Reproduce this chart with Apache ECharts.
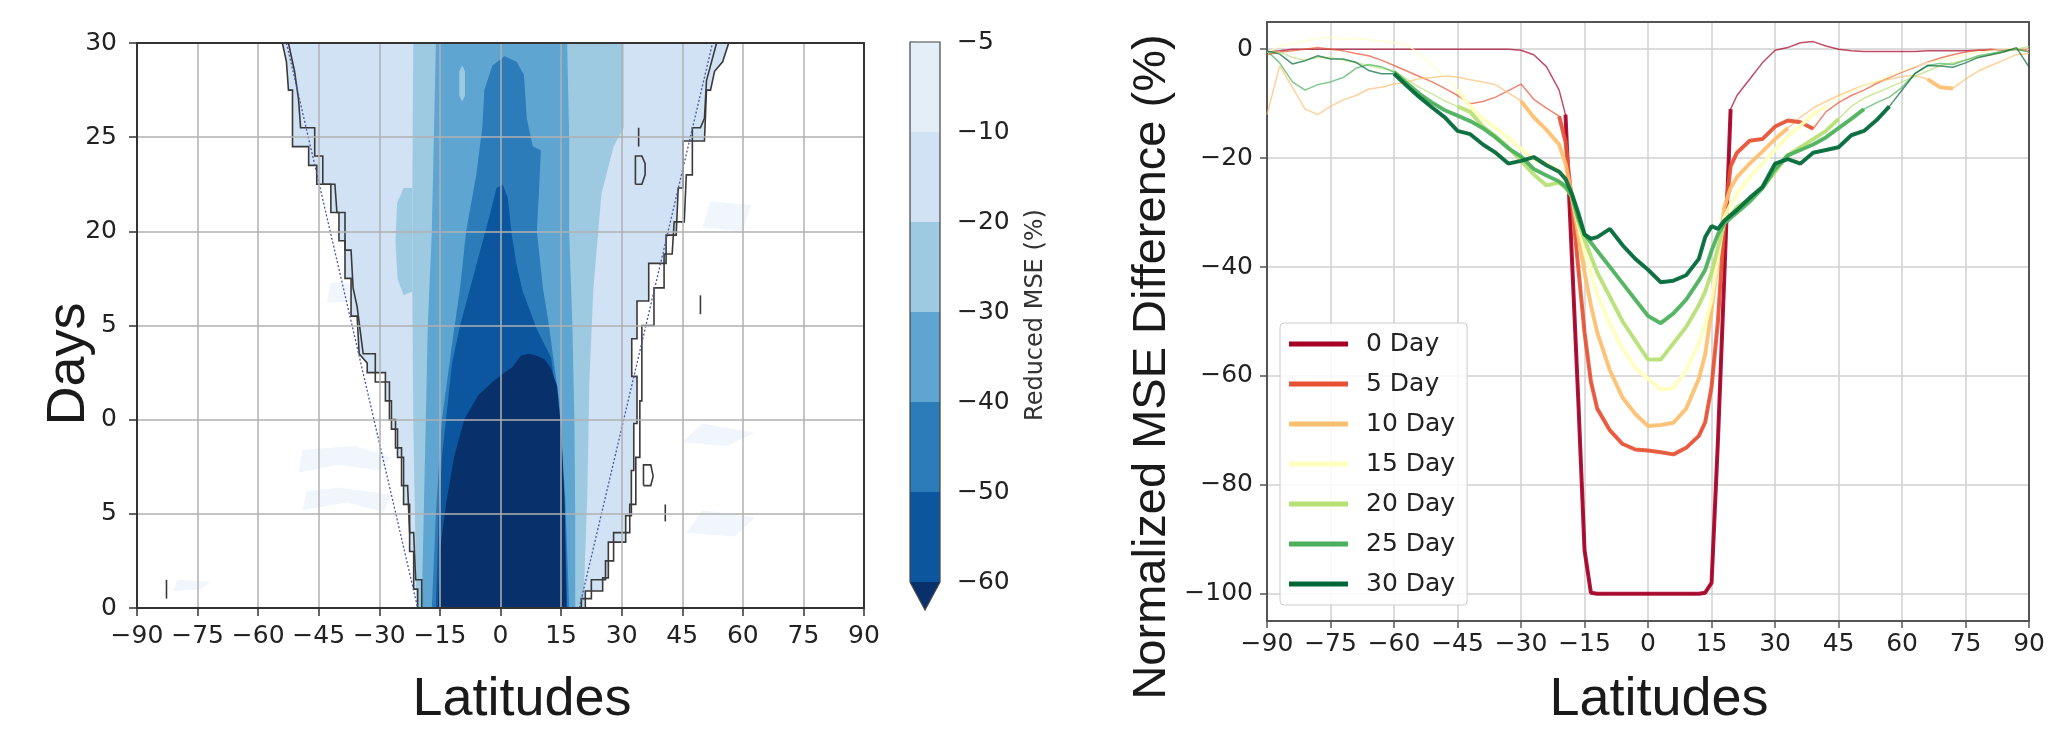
<!DOCTYPE html>
<html><head><meta charset="utf-8">
<script src="https://cdn.jsdelivr.net/npm/echarts@6/dist/echarts.min.js"></script>
<style>html,body{margin:0;padding:0;background:#fff;}#c{width:2048px;height:737px;}</style>
</head><body><div id="c"></div>
<script>
// ---------------- LEFT PANEL: contour regions (lat, day) ----------------
const CB_TICKS = [-5, -10, -20, -30, -40, -50, -60];
// outlines (significance boundaries), top -> bottom
const OUT_L1 = [[-54,30],[-53,29],[-52.5,27.5],[-51.5,27.5],[-51.5,24.5],[-47.5,24.5],[-47.5,23.5],[-45.5,23.5],[-45.5,22.5],[-42,22.5],[-42,21],[-40,21],[-40,19.5],[-38.5,19.5],[-38.5,17.5],[-37,17.5],[-37,15.5],[-35.5,15.5],[-35,13.5],[-33,13],[-33,12.5],[-28.5,12.5],[-28.5,11],[-27,11],[-27,9.5],[-25.5,9.5],[-25.5,8],[-24,8],[-24,5.5],[-22.5,5.5],[-22.5,3],[-21.5,3],[-21.5,1],[-20.5,1],[-20.5,0]];
const OUT_L2 = [[-52.5,30],[-51,28.5],[-50,27],[-49.5,25.5],[-46,25.5],[-46,24],[-44,24],[-44,22.5],[-41,22.5],[-40.5,21],[-38.5,21],[-38.5,19],[-37,19],[-36.5,17],[-35.5,16],[-34,13.5],[-31,13.5],[-31,12],[-27.5,12],[-27.5,10],[-26,10],[-26,8.5],[-24.5,8.5],[-24.5,6.5],[-23,6.5],[-22.5,4],[-21.5,4],[-21,1.5],[-19.5,1.5],[-19.5,0]];
const OUT_R1 = [[56.5,30],[55,29],[53,28.5],[52,27.5],[51,27.5],[50.5,24.8],[45.2,24.8],[45.2,22.3],[44,22.3],[43.5,19.8],[41,19.8],[41,18.3],[36.7,18.3],[36.7,16.3],[33.8,16.3],[33.8,14.3],[32.5,14.3],[32.5,12.3],[33.8,12.3],[33.8,9.8],[33,9.8],[33,7.3],[32.4,7.3],[32.4,4.9],[31,4.9],[31,3.5],[26.7,3.5],[26.7,1.6],[25.3,1.6],[25.3,0.9],[21,0.9],[21,0]];
const OUT_R2 = [[53.5,30],[52,28.8],[51,28],[50.5,26],[49.5,25.5],[47.5,25.5],[47.5,23],[46,23],[45.5,20.5],[43,20.5],[42.5,18.8],[40.5,18.8],[40.5,17],[38,17],[38,15],[35,15],[35,11],[34.5,11],[34.5,8],[33.5,8],[33.5,5.5],[32,5.5],[32,4],[28,4],[28,2.5],[26,2.5],[26,1.5],[22.5,1.5],[22.5,0.5],[20,0.5],[20,0]];
const DIAG_L = [[-53,30],[-20.5,0]];
const DIAG_R = [[19.5,0],[52.5,30]];
const ISLANDS = [
  [[33.4,22.5],[35.0,22.5],[35.8,23.0],[35.8,23.6],[35.0,24.0],[33.4,24.0],[33.4,22.5]],
  [[34.2,24.5],[34.2,25.5]],
  [[49.5,15.6],[49.5,16.6]],
  [[35.4,6.5],[37.2,6.5],[37.8,7.0],[37.2,7.6],[35.4,7.6],[35.4,6.5]],
  [[40.8,4.6],[40.8,5.5]],
  [[-82.7,0.5],[-82.7,1.5]]
];
// band regions: value <= level
const C_REGION = [[-20.8,0],[-21.2,5],[-21.6,10],[-21.8,16],[-21.8,23],[-21.6,30],[30.5,30],[30.5,25.5],[28,24.5],[25,22],[23,17],[22,12],[21.5,6],[20.5,0]];
const C_BLOB = [[-21.8,16.8],[-24,16.6],[-25.5,17.5],[-26,19.5],[-25.6,21.5],[-24,22.3],[-21.8,22.3]];
const D_REGION = [[-19.5,0],[-19,5],[-18.5,10],[-18,15],[-17,20],[-16.5,25],[-16,30],[16.5,30],[17,25],[17,20],[17.8,15],[18.3,10],[18.5,5],[18.5,0]];
const E_REGION = [[-17,0],[-16,5],[-14.5,10],[-12,14],[-10,17],[-8.5,20],[-6,23],[-4.5,25.5],[-4,27.5],[-2,28.8],[1,29.3],[4,29],[5.8,28.3],[6.5,26],[8,24.5],[10,24.3],[9.5,22],[9,20],[10.5,17],[12,15],[14.5,11],[16,6],[17,0]];
const F_REGION = [[-16,0],[-15.3,5],[-14.5,8],[-13.5,10],[-12,13],[-10,15],[-7.5,17],[-5,19],[-2.5,21],[-1,22.3],[0.5,22.5],[1.8,21.8],[2.8,19.8],[4,18.2],[5.5,16.8],[9,14.8],[12.5,13.3],[14,11],[15,9],[16,5],[16.5,0]];
const G_REGION = [[-15.5,0],[-15,3],[-13.5,5.5],[-11.5,8],[-9,10],[-5.5,11.3],[-2,12],[1,12.5],[3,12.8],[5,13.4],[7,13.5],[9,13.4],[11,13.2],[12.5,12.7],[14,11.8],[15,9.5],[15.8,6],[16.3,0]];
const LIGHT_SPOT = [[-10.2,27.2],[-9.5,26.9],[-8.8,27.2],[-8.8,28.5],[-9.5,28.8],[-10.2,28.5]];
const FAINT_PATCHES = [
  [[-50,7.2],[-40,7.6],[-30,7.3],[-27,8],[-36,8.6],[-49,8.4]],
  [[-49,5.2],[-38,5.6],[-29,5.1],[-27,6],[-40,6.4],[-48,6.2]],
  [[-43,16.2],[-37,16.3],[-36,17.2],[-42,17.3]],
  [[-81,0.9],[-74,1.0],[-72,1.4],[-80,1.5]],
  [[45,8.8],[56,8.6],[63,9.3],[50,9.8]],
  [[46,4],[58,3.8],[63,4.8],[50,5.2]],
  [[50,20.2],[60,20],[62,21.4],[52,21.6]]
];

// ---------------- RIGHT PANEL: line data ----------------
const LATS = [-90,-87,-84,-81,-78,-75,-72,-69,-66,-63,-60,-57,-54,-51,-48,-45,-42,-39,-36,-33,-30,-27,-24,-21,-19.5,-18,-16.5,-15,-13.5,-12,-9,-6,-3,0,3,6,9,12,13.5,15,16.5,18,19.5,21,24,27,30,33,36,39,42,45,48,51,54,57,60,63,66,69,72,75,78,81,84,87,90];
const DAY0 = [-0.5,-0.3,0,0,0,0,0,0,0,0, 0,0,0,0,0,0,0,0,0,0, -0.2,-1,-3.2,-7.5,-12,-38,-64,-92,-99.8,-100, -100,-100,-100,-100,-100,-100,-100,-100,-99.8,-98, -72,-42,-11,-8.5,-5.5,-2.5,-0.2,0.3,1.2,1.4, 0.6,0,-0.3,-0.4,-0.4,-0.4,-0.4,-0.4,-0.3,-0.3, -0.3,-0.3,-0.2,-0.2,-0.1,0,0];
const DAY5 = [-1,-0.5,-0.3,0,0.3,0,-0.3,-0.8,-1.2,-2, -3,-4,-5,-6,-7.2,-8.5,-10,-9.6,-8.8,-7.6, -6.4,-9.2,-10.8,-12.3,-17,-28,-40,-52,-61,-66, -70,-72.5,-73.5,-73.7,-74,-74.4,-73.2,-71,-68.5,-62, -50,-32,-21.5,-19,-16.8,-16.5,-14.2,-13.1,-13.4,-14.6, -11.5,-9.8,-8.5,-7.5,-6.3,-5.2,-4.2,-3.3,-2.4,-1.6, -1,-0.5,-0.2,0,-0.3,0,-0.4];
const DAY10 = [-12,-3,-7,-11,-12,-10.5,-9.3,-8.5,-7.3,-7, -6.4,-6,-5.4,-5.2,-4.9,-5.1,-5.6,-6,-6.5,-8, -9.5,-12.5,-14.8,-17.5,-21,-27,-34,-41,-47,-52, -59,-64,-67,-69.2,-69,-68.6,-66,-60.5,-56,-48, -38.5,-29,-25.5,-23.5,-21,-18.8,-16.5,-14.5,-12.5,-10.8, -9.6,-8.5,-7.5,-6.6,-6,-5.5,-5,-4.8,-5.5,-7, -7.2,-5.5,-4,-3,-2,-1,-0.8];
const DAY15 = [-0.5,0.5,1,1.5,2,2.2,1.8,2,1.8,1.5, 1.2,0.8,-0.8,-3,-5,-7.5,-10.5,-12.8,-14.5,-16.3, -18.3,-20.3,-21,-22.3,-24,-26.5,-32,-37,-41,-45, -50.5,-55,-58.5,-60.5,-62.5,-62.2,-59,-54,-50.5,-46, -38,-31,-28.5,-26.5,-23.5,-21,-18.5,-16,-14,-12, -10.5,-9,-7.8,-6.7,-5.8,-5,-4,-3.2,-2.5,-2, -1.5,-1,-0.6,-0.3,0,0.2,0];
const DAY20 = [-0.5,-0.5,-1.5,-2,-1.5,-1.5,-2,-2.5,-3,-3.5, -4,-5.5,-7,-8.2,-9.5,-10.5,-11.5,-14.2,-16,-18, -20.5,-23,-25,-24.5,-25.5,-27,-31.5,-35,-38,-41, -45.5,-50,-53.5,-57,-57,-54,-51,-47,-44.5,-41, -36.5,-32,-30.5,-29,-27.5,-25.5,-22.5,-19.5,-18,-16.5, -15,-12.8,-10.5,-9,-8,-7,-6,-5,-4,-3, -2.5,-2,-1.5,-1,-0.5,0,0.5];
const DAY25 = [-0.3,-2.5,-6,-7.5,-6.5,-6,-5.2,-3.5,-2.8,-3.2, -4.2,-6.2,-8.2,-9.8,-11.2,-12.2,-13.2,-14.5,-16.2,-18.2, -19.7,-22,-23.2,-24.3,-25.2,-26.8,-31,-34,-35.5,-37, -40,-43,-46,-49,-50.3,-48.5,-46,-42.5,-40.5,-37, -34,-32,-31,-30,-28,-25.5,-22,-19.5,-18.5,-17.5, -16.2,-14.5,-12.8,-11,-9.8,-8.8,-7,-4.5,-3,-2.6, -2.8,-2,-1.2,-0.8,-0.3,0,-0.5];
const DAY30 = [-0.3,-0.9,-2.7,-2.1,-1.2,-1.8,-1.8,-2.4,-3.9,-4.5, -4.5,-6.7,-8.8,-10.7,-12.5,-15,-15.6,-17.5,-19,-21, -20.5,-19.8,-21.3,-22.5,-23.8,-26.5,-30,-34,-34.8,-34.5, -33,-36,-38.5,-40.5,-42.8,-42.5,-41.5,-38.5,-34.5,-32.5, -33,-31.5,-30.5,-29.5,-27.3,-25.3,-21,-20.2,-21,-19, -18.5,-18,-15.8,-15,-13,-10.5,-7.5,-4.5,-3,-3.1, -3.3,-2.5,-1.5,-1,-0.5,0.3,-3.3];
const SERIES_NAMES = ['0 Day','5 Day','10 Day','15 Day','20 Day','25 Day','30 Day'];
// latitude spans where each curve is drawn bold
const BOLD_SPANS = [[[-19.5,19.5]],[[-21,39]],[[-30,33],[66,72]],[[-45,42]],[[-45,45]],[[-60,51]],[[-60,57]]];

// ---------------- styling ----------------
const SERIES_VALUES = [DAY0, DAY5, DAY10, DAY15, DAY20, DAY25, DAY30];
const LINE_COLORS = ['#a50026','#e75235','#fdbf6f','#ffffbf','#b7e075','#4bb05c','#006837'];
const CB_COLORS = ['#e4eef9','#d0e2f3','#9ecae1','#5ea5d1','#2c7cba','#0c56a0','#08306b'];
const TICK_FONT = 'DejaVu Sans';
const TITLE_FONT = 'Liberation Sans';
const minus = v => String(v).replace('-', '\u2212');

const chart = echarts.init(document.getElementById('c'));

const fills = [];
FAINT_PATCHES.forEach(p => fills.push({pts: p, color: '#f1f6fc'}));
fills.push({pts: OUT_L1.concat(OUT_R1.slice().reverse()), color: CB_COLORS[1]});
fills.push({pts: C_REGION, color: CB_COLORS[2]});
fills.push({pts: C_BLOB, color: CB_COLORS[2]});
fills.push({pts: D_REGION, color: CB_COLORS[3]});
fills.push({pts: LIGHT_SPOT, color: CB_COLORS[2]});
fills.push({pts: E_REGION, color: CB_COLORS[4]});
fills.push({pts: F_REGION, color: CB_COLORS[5]});
fills.push({pts: G_REGION, color: CB_COLORS[6]});

const strokes = [];
[OUT_L1, OUT_L2, OUT_R1, OUT_R2].forEach(p => strokes.push({pts: p, color: '#3a3a3a', w: 1.6, dash: null}));
ISLANDS.forEach(p => strokes.push({pts: p, color: '#3a3a3a', w: 1.6, dash: null}));
[DIAG_L, DIAG_R].forEach(p => strokes.push({pts: p, color: '#4a55a8', w: 1.3, dash: [2, 2]}));

const series = [];
series.push({
  type: 'custom', xAxisIndex: 0, yAxisIndex: 0, z: 1, clip: true, silent: true,
  data: fills.map(() => [0, 15]),
  renderItem: (params, api) => {
    const f = fills[params.dataIndex];
    return {type: 'polygon', shape: {points: f.pts.map(p => api.coord(p))}, style: {fill: f.color}};
  }
});
series.push({
  type: 'custom', xAxisIndex: 0, yAxisIndex: 0, z: 1, clip: true, silent: true,
  data: strokes.map(() => [0, 15]),
  renderItem: (params, api) => {
    const s = strokes[params.dataIndex];
    return {type: 'polyline', shape: {points: s.pts.map(p => api.coord(p))},
      style: {stroke: s.color, lineWidth: s.w, fill: null, lineDash: s.dash}};
  }
});
// colorbar
series.push({
  type: 'custom', xAxisIndex: 2, yAxisIndex: 2, clip: false, silent: true, z: 2,
  data: CB_COLORS.map((c, i) => [0, i]).concat([[0, 0]]),
  renderItem: (params, api) => {
    const i = params.dataIndex;
    if (i < CB_COLORS.length - 1) {
      const a = api.coord([0, i]), b = api.coord([1, i + 1]);
      return {type: 'rect', shape: {x: a[0], y: a[1], width: b[0] - a[0], height: b[1] - a[1] + 0.5}, style: {fill: CB_COLORS[i]}};
    }
    if (i === CB_COLORS.length - 1) {
      return {type: 'polygon', shape: {points: [api.coord([0, 6]), api.coord([1, 6]), api.coord([0.5, 6.31])]}, style: {fill: CB_COLORS[i]}};
    }
    return {type: 'polyline', shape: {points: [[0,6],[0,0],[1,0],[1,6],[0.5,6.31],[0,6]].map(p => api.coord(p))},
      style: {stroke: '#444', lineWidth: 1.2, fill: null}};
  }
});
// right panel lines: thin full curves then bold spans
SERIES_VALUES.forEach((vals, i) => {
  series.push({
    name: SERIES_NAMES[i], type: 'line', xAxisIndex: 3, yAxisIndex: 3, symbol: 'none', z: 2,
    color: LINE_COLORS[i],
    lineStyle: {width: 1.5, opacity: 0.7},
    data: LATS.map((x, j) => [x, vals[j]])
  });
});
SERIES_VALUES.forEach((vals, i) => {
  const inSpan = x => BOLD_SPANS[i].some(s => x >= s[0] && x <= s[1]);
  series.push({
    name: SERIES_NAMES[i], type: 'line', xAxisIndex: 3, yAxisIndex: 3, symbol: 'none', z: 3,
    color: LINE_COLORS[i], connectNulls: false,
    lineStyle: {width: 4, opacity: 0.9},
    data: LATS.map((x, j) => inSpan(x) ? [x, vals[j]] : [x, '-'])
  });
});

const tickLabel = (margin) => ({fontFamily: TICK_FONT, fontSize: 25, color: '#222', margin, formatter: minus});
const frameAxis = (grid, pos, color) => ({gridIndex: grid, type: 'value', position: pos, z: 5,
  min: pos === 'top' ? -90 : undefined, max: pos === 'top' ? 90 : undefined,
  axisLine: {show: true, onZero: false, lineStyle: {color, width: 2}},
  axisTick: {show: false}, axisLabel: {show: false}, splitLine: {show: false}});

const option = {
  animation: false,
  backgroundColor: '#ffffff',
  grid: [
    {left: 137, top: 43, width: 727, height: 565},
    {left: 910, top: 42, width: 30, height: 540},
    {left: 1267, top: 22, width: 776, height: 599}
  ],
  legend: {
    orient: 'vertical', left: 1280, top: 323, selectedMode: false,
    icon: 'rect', itemWidth: 59, itemHeight: 5, itemGap: 14,
    padding: [8, 12, 8, 9],
    backgroundColor: 'rgba(255,255,255,0.85)', borderColor: '#cccccc', borderWidth: 1, borderRadius: 4,
    textStyle: {fontFamily: TICK_FONT, fontSize: 25, color: '#222', lineHeight: 26, padding: [0, 0, 0, 13]},
    data: SERIES_NAMES.map((n, i) => ({name: n, itemStyle: {color: LINE_COLORS[i], opacity: 1}}))
  },
  xAxis: [
    {gridIndex: 0, type: 'value', min: -90, max: 90, interval: 15, z: 5,
      axisLine: {show: true, onZero: false, lineStyle: {color: '#333', width: 2}},
      axisTick: {show: true, length: 8, lineStyle: {color: '#333', width: 1.5}},
      axisLabel: tickLabel(16),
      splitLine: {show: true, lineStyle: {color: '#b0b0b0', width: 1.5}}},
    frameAxis(0, 'top', '#333'),
    {gridIndex: 1, type: 'value', min: 0, max: 1, show: false},
    {gridIndex: 2, type: 'value', min: -90, max: 90, interval: 15,
      axisLine: {show: true, onZero: false, lineStyle: {color: '#555', width: 2}},
      axisTick: {show: true, length: 7, lineStyle: {color: '#555', width: 1.5}},
      axisLabel: tickLabel(11),
      splitLine: {show: true, lineStyle: {color: '#d0d0d0', width: 1.5}}},
    frameAxis(2, 'top', '#555')
  ],
  yAxis: [
    {gridIndex: 0, type: 'value', min: 0, max: 30, interval: 5, z: 5,
      axisLine: {show: true, onZero: false, lineStyle: {color: '#333', width: 2}},
      axisTick: {show: true, length: 8, lineStyle: {color: '#333', width: 1.5}},
      axisLabel: tickLabel(20),
      splitLine: {show: true, lineStyle: {color: '#b0b0b0', width: 1.5}}},
    {gridIndex: 0, type: 'value', min: 0, max: 30, position: 'right', z: 5,
      axisLine: {show: true, onZero: false, lineStyle: {color: '#333', width: 2}},
      axisTick: {show: false}, axisLabel: {show: false}, splitLine: {show: false}},
    {gridIndex: 1, type: 'value', min: 0, max: 6, interval: 1, inverse: true, position: 'right',
      axisLine: {show: false}, axisTick: {show: true, length: 6, lineStyle: {color: '#444', width: 1.2}},
      axisLabel: {fontFamily: TICK_FONT, fontSize: 25, color: '#222', margin: 17,
        formatter: v => minus(CB_TICKS[Math.round(v)])},
      splitLine: {show: false}},
    {gridIndex: 2, type: 'value', min: -105, max: 5, splitNumber: 5,
      axisLine: {show: true, onZero: false, lineStyle: {color: '#555', width: 2}},
      axisTick: {show: true, length: 7, lineStyle: {color: '#555', width: 1.5}},
      axisLabel: Object.assign(tickLabel(14), {showMinLabel: false, showMaxLabel: false}),
      splitLine: {show: true, lineStyle: {color: '#d0d0d0', width: 1.5}}},
    {gridIndex: 2, type: 'value', min: -105, max: 5, position: 'right',
      axisLine: {show: true, onZero: false, lineStyle: {color: '#555', width: 2}},
      axisTick: {show: false}, axisLabel: {show: false}, splitLine: {show: false}}
  ],
  graphic: [
    {type: 'rect', z: 99, shape: {x: 28, y: 282, width: 72, height: 150}, style: {fill: '#ffffff'}},
    {type: 'text', x: 69, y: 364, rotation: Math.PI / 2, z: 100,
      style: {text: 'Days', fontFamily: TITLE_FONT, fontSize: 54, fill: '#1a1a1a', align: 'center', verticalAlign: 'middle'}},
    {type: 'text', x: 522, y: 700, z: 100,
      style: {text: 'Latitudes', fontFamily: TITLE_FONT, fontSize: 54, fill: '#1a1a1a', align: 'center', verticalAlign: 'middle'}},
    {type: 'text', x: 1036, y: 315, rotation: Math.PI / 2, z: 100,
      style: {text: 'Reduced MSE (%)', fontFamily: TICK_FONT, fontSize: 24, fill: '#333', align: 'center', verticalAlign: 'middle'}},
    {type: 'text', x: 1152, y: 367, rotation: Math.PI / 2, z: 100,
      style: {text: 'Normalized MSE Difference (%)', fontFamily: TITLE_FONT, fontSize: 47, fill: '#1a1a1a', align: 'center', verticalAlign: 'middle'}},
    {type: 'text', x: 1659, y: 700, z: 100,
      style: {text: 'Latitudes', fontFamily: TITLE_FONT, fontSize: 54, fill: '#1a1a1a', align: 'center', verticalAlign: 'middle'}}
  ],
  series
};
chart.setOption(option);
</script></body></html>
